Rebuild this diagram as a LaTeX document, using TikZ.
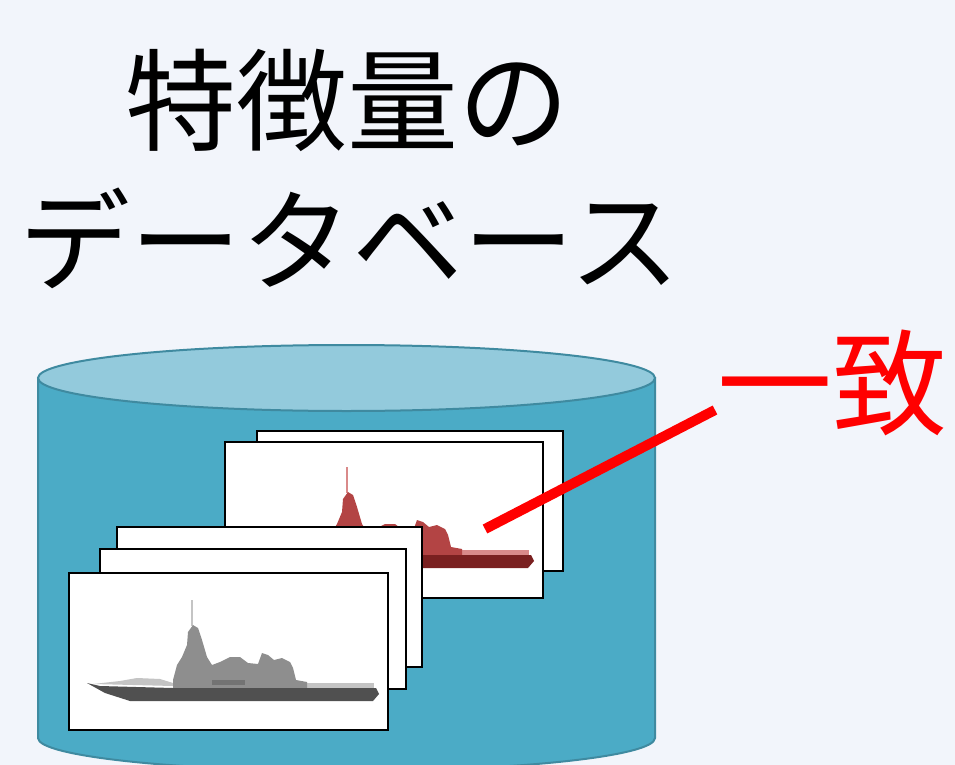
\documentclass[tikz,border=0pt]{standalone}
\usepackage{fontspec}
\newfontfamily\jp{Noto Sans CJK JP}
\definecolor{paper}{HTML}{F2F5FB}
\definecolor{drumside}{HTML}{4BABC6}
\definecolor{drumlid}{HTML}{93CADC}
\definecolor{drumedge}{HTML}{3F8AA0}
\definecolor{matchred}{HTML}{FF0000}
\definecolor{redhull}{HTML}{7A2020}
\definecolor{redbody}{HTML}{B34444}
\definecolor{redlight}{HTML}{D98A8A}
\definecolor{greyhull}{HTML}{505050}
\definecolor{greybody}{HTML}{8E8E8E}
\definecolor{greylight}{HTML}{C4C4C4}

% ship silhouette: #1 hull, #2 superstructure, #3 light parts
\newcommand{\vessel}[3]{%
	\fill[#3] (93,684) -- (120,681) -- (137,678) -- (160,679) -- (173,683) -- (173,686) -- cycle;
	\fill[#3] (293,683) rectangle (374,689);
	\draw[#3,line width=1.5pt] (192,600) -- (192,626);
	\fill[#2] (173,688) -- (173,680) -- (177,665) -- (182,657) -- (187,645) -- (188,632) -- (193,625) -- (198,628) -- (202,640) -- (207,657) -- (212,665) -- (220,662) -- (230,657) -- (240,657) -- (248,663) -- (258,664) -- (262,653) -- (268,655) -- (274,660) -- (282,658) -- (290,662) -- (293,668) -- (296,680) -- (307,682) -- (307,688) -- cycle;
	\fill[#1!80!white] (212,680) rectangle (245,685);
	\fill[#1] (87,683) -- (100,686) -- (173,688) -- (376,688) -- (379,694) -- (373,701) -- (130,701) -- (105,693) -- cycle;
}

\begin{document}
\begin{tikzpicture}[x=1pt,y=-1pt,
	card/.style={draw=black,fill=white,line width=2.2pt,inner sep=0pt,anchor=north west},
	drum/.style={fill=drumside,draw=drumedge,line width=2pt},
	lid/.style={fill=drumlid,draw=drumedge,line width=2pt},
	title/.style={font=\jp\fontsize{111}{130}\selectfont,inner sep=0pt},
	matchline/.style={draw=matchred,line width=10pt}]
	\fill[paper] (0,0) rectangle (955,765);
	\useasboundingbox (0,0) rectangle (955,765);
	\clip (0,0) rectangle (955,765);
	% database drum
	\filldraw[drum] (38,378) -- (38,738) arc[start angle=180,end angle=0,x radius=308.5,y radius=33] -- (655,378) -- cycle;
	\filldraw[lid] (346.5,378) ellipse[x radius=308.5,y radius=33];
	% cards at the back
	\node[card,minimum width=306pt,minimum height=140pt] (backA) at (256,430) {};
	\node[card,minimum width=318pt,minimum height=156pt] (backB) at (224,441) {};
	\begin{scope}[shift={(155,-133)}]
		\vessel{redhull}{redbody}{redlight}
	\end{scope}
	% cards in front
	\node[card,minimum width=305pt,minimum height=140pt] (frontC) at (116,526) {};
	\node[card,minimum width=306pt,minimum height=140pt] (frontD) at (99,548) {};
	\node[card,minimum width=319pt,minimum height=157pt] (frontE) at (68,572) {};
	\vessel{greyhull}{greybody}{greylight}
	% labels
	\node[title] (title1) at (347,100) {特徴量の};
	\node[title] (title2) at (350,238) {データベース};
	\node[title,text=matchred,font=\jp\fontsize{115}{130}\selectfont] (matchlabel) at (832,383) {一致};
	\coordinate (hit) at (485,529);
	\coordinate (lead) at (715,410);
	\draw[matchline] (hit) -- (lead);
\end{tikzpicture}
\end{document}
